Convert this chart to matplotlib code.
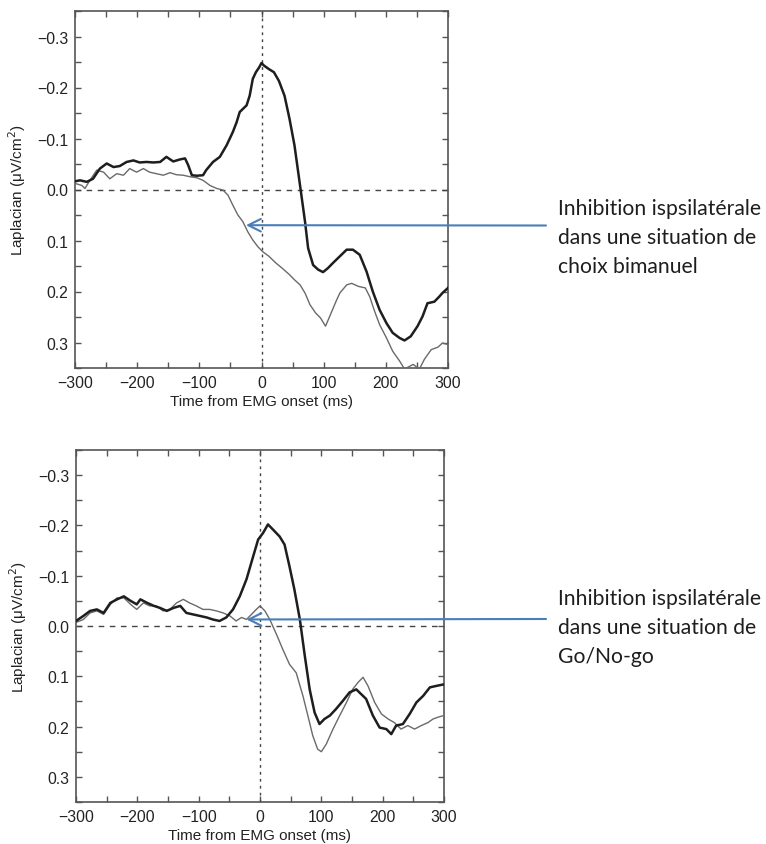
import matplotlib
matplotlib.use("Agg")
import matplotlib.pyplot as plt
from matplotlib.ticker import MultipleLocator, FixedLocator, FuncFormatter

# ---------------- data ----------------
top_dark_t = [-300, -292, -281, -271, -260, -249, -238, -228, -217, -206, -196, -185, -174, -163,
              -153, -142, -131, -123, -118, -112, -104, -94, -89, -78, -67, -56, -46, -40, -35,
              -24, -19, -14, -9, -4, 0, 4, 12, 20, 28, 37, 45, 53, 62, 70, 75, 83, 91, 99, 107,
              115, 126, 137, 147, 158, 169, 179, 190, 201, 211, 222, 230, 240, 251, 259, 267,
              278, 286, 291, 300]
top_dark_v = [-0.016, -0.018, -0.015, -0.021, -0.041, -0.051, -0.044, -0.046, -0.054, -0.057,
              -0.053, -0.054, -0.053, -0.054, -0.064, -0.055, -0.059, -0.061, -0.048, -0.028,
              -0.027, -0.028, -0.038, -0.054, -0.064, -0.087, -0.113, -0.132, -0.152, -0.165,
              -0.184, -0.217, -0.230, -0.239, -0.248, -0.243, -0.236, -0.230, -0.213, -0.184,
              -0.139, -0.087, -0.008, 0.063, 0.115, 0.148, 0.157, 0.162, 0.154, 0.144, 0.131,
              0.118, 0.118, 0.128, 0.161, 0.200, 0.236, 0.262, 0.281, 0.291, 0.296, 0.288,
              0.268, 0.249, 0.223, 0.220, 0.210, 0.203, 0.193]

top_gray_t = [-300, -289, -284, -276, -265, -254, -244, -233, -222, -212, -201, -190, -180, -169,
              -158, -147, -137, -126, -115, -104, -94, -83, -72, -62, -54, -46, -38, -30, -22,
              -14, -6, 2, 12, 23, 33, 45, 53, 62, 70, 78, 87, 95, 103, 111, 120, 126, 137, 145,
              156, 167, 174, 182, 190, 201, 211, 222, 230, 244, 254, 262, 273, 284, 291, 300]
top_gray_v = [-0.012, -0.008, -0.002, -0.018, -0.038, -0.034, -0.021, -0.031, -0.028, -0.041,
              -0.034, -0.041, -0.034, -0.031, -0.028, -0.033, -0.029, -0.028, -0.025, -0.023,
              -0.018, -0.008, -0.002, 0.001, 0.011, 0.031, 0.050, 0.063, 0.083, 0.099, 0.112,
              0.122, 0.131, 0.144, 0.154, 0.167, 0.177, 0.187, 0.203, 0.226, 0.242, 0.252,
              0.268, 0.245, 0.219, 0.203, 0.187, 0.184, 0.190, 0.193, 0.210, 0.239, 0.265,
              0.291, 0.317, 0.336, 0.352, 0.343, 0.352, 0.333, 0.314, 0.309, 0.301, 0.304]

bot_dark_t = [-300, -288, -277, -266, -255, -244, -233, -222, -211, -201, -195, -184, -173, -163,
              -152, -141, -130, -120, -109, -98, -87, -77, -66, -55, -44, -33, -22, -11, -3, 5,
              13, 21, 32, 40, 48, 56, 65, 73, 81, 89, 97, 105, 114, 124, 135, 146, 157, 162,
              173, 184, 195, 206, 214, 222, 233, 244, 255, 266, 277, 288, 300]
bot_dark_v = [-0.010, -0.020, -0.030, -0.033, -0.026, -0.046, -0.053, -0.059, -0.050, -0.043,
              -0.053, -0.046, -0.040, -0.036, -0.030, -0.036, -0.040, -0.026, -0.023, -0.020,
              -0.017, -0.013, -0.010, -0.017, -0.033, -0.059, -0.093, -0.139, -0.172, -0.185,
              -0.202, -0.192, -0.178, -0.162, -0.119, -0.073, -0.013, 0.059, 0.126, 0.172,
              0.195, 0.185, 0.178, 0.165, 0.149, 0.132, 0.126, 0.132, 0.145, 0.178, 0.202,
              0.205, 0.215, 0.198, 0.195, 0.175, 0.152, 0.139, 0.122, 0.119, 0.116]

bot_gray_t = [-300, -288, -277, -266, -255, -244, -233, -222, -211, -201, -190, -180, -169, -158,
              -147, -136, -125, -115, -104, -93, -82, -71, -60, -49, -39, -30, -22, -14, -6, 0,
              8, 16, 27, 37, 48, 59, 70, 78, 86, 94, 100, 108, 119, 130, 141, 151, 160, 168,
              176, 187, 198, 209, 219, 230, 241, 252, 263, 274, 282, 291, 300]
bot_gray_v = [-0.007, -0.013, -0.026, -0.030, -0.023, -0.043, -0.056, -0.056, -0.043, -0.033,
              -0.046, -0.040, -0.040, -0.030, -0.033, -0.046, -0.053, -0.046, -0.040, -0.033,
              -0.033, -0.030, -0.026, -0.020, -0.010, -0.017, -0.013, -0.023, -0.033, -0.040,
              -0.030, -0.013, 0.017, 0.046, 0.076, 0.093, 0.139, 0.178, 0.218, 0.245, 0.250,
              0.235, 0.205, 0.178, 0.152, 0.126, 0.112, 0.102, 0.119, 0.152, 0.175, 0.185,
              0.192, 0.205, 0.198, 0.205, 0.198, 0.192, 0.185, 0.181, 0.178]

x_ticks = [-300, -200, -100, 0, 100, 200, 300]
y_ticks = [-0.3, -0.2, -0.1, 0.0, 0.1, 0.2, 0.3]

top_arrow_tip = (-25, 0.07)
bot_arrow_tip = (-22, -0.013)

top_note = ["Inhibition ispsilatérale", "dans une situation de", "choix bimanuel"]
bot_note = ["Inhibition ispsilatérale", "dans une situation de", "Go/No-go"]

# ---------------- figure ----------------
plt.rcParams['font.family'] = ['Liberation Sans', 'DejaVu Sans']
W, H = 766, 845
fig = plt.figure(figsize=(W / 100, H / 100), dpi=100)

spine_col = '#555555'
txt_col = '#222222'
arrow_col = '#4a7ebb'


def make_axes(rect, dark_t, dark_v, gray_t, gray_v):
    ax = fig.add_axes(rect)
    ax.plot(gray_t, gray_v, color='#6a6a6a', lw=1.0, zorder=3)
    ax.plot(dark_t, dark_v, color='#1e1e1e', lw=1.8, zorder=4)
    ax.axhline(0, color='#444444', lw=1.0, ls=(0, (4, 4)), zorder=2)
    ax.axvline(0, color='#444444', lw=1.0, ls=(0, (2, 3)), zorder=2)
    ax.set_xlim(-300, 300)
    ax.set_ylim(0.35, -0.35)
    ax.xaxis.set_major_locator(FixedLocator(x_ticks))
    ax.yaxis.set_major_locator(FixedLocator(y_ticks))
    ax.xaxis.set_minor_locator(MultipleLocator(50))
    ax.yaxis.set_minor_locator(MultipleLocator(0.05))
    ax.xaxis.set_major_formatter(FuncFormatter(lambda v, p: f"{v:.0f}".replace('-', '\u2212')))
    ax.yaxis.set_major_formatter(FuncFormatter(lambda v, p: (f"{v:.1f}" if abs(v) > 1e-9 else "0.0").replace('-', '\u2212')))
    ax.tick_params(which='both', direction='in', top=True, right=True, length=4.5,
                   width=1.0, color=spine_col, labelsize=11.3, labelcolor=txt_col, pad=5)
    for s in ax.spines.values():
        s.set_color(spine_col)
        s.set_linewidth(1.2)
    ax.set_xlabel("Time from EMG onset (ms)", fontsize=11, color=txt_col, labelpad=3)
    ax.set_ylabel("Laplacian (\u03bcV/cm$^2$)", fontsize=11, color=txt_col, labelpad=6)
    return ax


ax1 = make_axes([75 / W, 1 - 369 / H, (448 - 75) / W, (369 - 12) / H],
                top_dark_t, top_dark_v, top_gray_t, top_gray_v)
ax2 = make_axes([76 / W, 1 - 803 / H, (444 - 76) / W, (803 - 451) / H],
                bot_dark_t, bot_dark_v, bot_gray_t, bot_gray_v)

aprops = dict(arrowstyle='->,head_length=0.9,head_width=0.45', color=arrow_col, lw=1.5,
              shrinkA=0, shrinkB=0)
ax1.annotate("", xy=top_arrow_tip, xycoords='data', xytext=(546, H - 226.5),
             textcoords='figure pixels', arrowprops=aprops, zorder=6, annotation_clip=False)
ax2.annotate("", xy=bot_arrow_tip, xycoords='data', xytext=(546, H - 620),
             textcoords='figure pixels', arrowprops=aprops, zorder=6, annotation_clip=False)

for lines, base in ((top_note, 215), (bot_note, 605)):
    for i, line in enumerate(lines):
        fig.text(558 / W, 1 - (base + 29 * i) / H, line, fontsize=15.2, color='#1e1e1e',
                 family=['Lato', 'DejaVu Sans'], va='baseline', ha='left')

fig.savefig("out.png", dpi=100)
